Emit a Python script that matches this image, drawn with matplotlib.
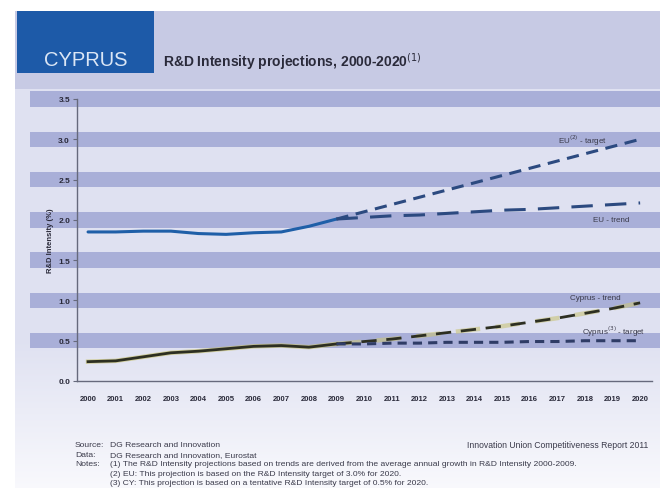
import numpy as np
import matplotlib
matplotlib.use("Agg")
import matplotlib.pyplot as plt
from matplotlib.patches import Rectangle

plt.rcParams['font.family'] = ['Liberation Sans Narrow', 'Liberation Sans', 'DejaVu Sans']

# ---- data -------------------------------------------------------------
years_hist = [2000, 2001, 2002, 2003, 2004, 2005, 2006, 2007, 2008, 2009]
eu_hist = [1.85, 1.85, 1.86, 1.86, 1.83, 1.82, 1.84, 1.85, 1.92, 2.01]
cy_hist = [0.24, 0.25, 0.30, 0.35, 0.37, 0.40, 0.43, 0.44, 0.42, 0.46]

years_proj = [2009, 2010, 2011, 2012, 2013, 2014, 2015, 2016, 2017, 2018, 2019, 2020]
eu_trend = [2.01, 2.03, 2.05, 2.06, 2.08, 2.10, 2.12, 2.13, 2.15, 2.17, 2.19, 2.21]
eu_target = [2.01, 2.10, 2.19, 2.28, 2.37, 2.46, 2.55, 2.64, 2.73, 2.82, 2.91, 3.00]
cy_trend = [0.46, 0.49, 0.52, 0.56, 0.60, 0.64, 0.68, 0.73, 0.78, 0.84, 0.90, 0.97]
cy_target = [0.46, 0.46, 0.47, 0.47, 0.48, 0.48, 0.48, 0.49, 0.49, 0.50, 0.50, 0.50]

x_ticks = list(range(2000, 2021))
y_ticks = [0.0, 0.5, 1.0, 1.5, 2.0, 2.5, 3.0, 3.5]

W, H = 664, 489
fig = plt.figure(figsize=(W / 100, H / 100), dpi=100)
fig.patch.set_facecolor('white')


def fx(px):
    return px / W


def fy(py):
    return 1 - py / H


# ---- page panel, flat in the chart region and fading out below -------
bg = fig.add_axes([fx(15), 0, fx(660) - fx(15), fy(12)])
bg.set_axis_off()
top = np.array([0.878, 0.886, 0.948])
bot = np.array([0.975, 0.975, 0.99])
t = np.clip((np.linspace(0, 1, 256) - 0.70) / 0.30, 0, 1).reshape(-1, 1)
img = top[None, None, :] * (1 - t[:, :, None]) + bot[None, None, :] * t[:, :, None]
bg.imshow(img, aspect='auto', extent=[0, 1, 0, 1], origin='upper')
bg.set_xlim(0, 1)
bg.set_ylim(0, 1)

# header band and country box
fig.patches.append(Rectangle((fx(15), fy(90)), fx(660) - fx(15), fy(12) - fy(90),
                             transform=fig.transFigure, facecolor='#c7cae4',
                             edgecolor='none', zorder=1))
fig.patches.append(Rectangle((fx(17), fy(74)), fx(154) - fx(17), fy(12) - fy(74),
                             transform=fig.transFigure, facecolor='#1d5aa8',
                             edgecolor='none', zorder=2))
fig.text(fx(86), fy(61), 'CYPRUS', color='#dbe6f5', fontsize=14.5, ha='center',
         va='center', zorder=3)
fig.text(fx(163), fy(62), 'R&D Intensity projections, 2000-2020$^{(1)}$',
         color='#2a2a3a', fontsize=10, fontweight='bold', ha='left', va='center',
         zorder=3)

# ---- geometry of the plotting area ------------------------------------
ax_left, ax_right = 77, 652
ax_top, ax_bot = 100, 382
rect_main = [fx(ax_left), fy(ax_bot), fx(ax_right) - fx(ax_left), fy(ax_top) - fy(ax_bot)]
ylim = (0.0, 3.5)

# stripes that run across the full panel width
band_ax = fig.add_axes([fx(30), fy(ax_bot), fx(660) - fx(30), fy(ax_top) - fy(ax_bot)])
band_ax.set_axis_off()
band_ax.set_xlim(0, 1)
band_ax.set_ylim(*ylim)
for v in y_ticks[1:]:
    band_ax.axhspan(v - 0.095, v + 0.095, facecolor='#a9afd8', edgecolor='none',
                    clip_on=False)

ax = fig.add_axes(rect_main)
ax.patch.set_alpha(0)
ax.set_xlim(1999.6, 2020.43)
ax.set_ylim(*ylim)

for s in ['top', 'right']:
    ax.spines[s].set_visible(False)
for s in ['left', 'bottom']:
    ax.spines[s].set_color('#66697c')
    ax.spines[s].set_linewidth(1.0)

ax.set_yticks(y_ticks)
ax.set_yticklabels([f'{v:.1f}' for v in y_ticks])
ax.set_xticks(x_ticks)
ax.set_xticklabels([str(y) for y in x_ticks])
ax.tick_params(axis='y', length=3, width=0.8, color='#66697c', pad=2,
               labelsize=6, labelcolor='#2a2a3a')
ax.tick_params(axis='x', length=0, pad=10, labelsize=5.5, labelcolor='#2a2a3a')
for lbl in ax.get_xticklabels() + ax.get_yticklabels():
    lbl.set_fontweight('bold')
ax.set_ylabel('R&D Intensity (%)', fontsize=5.5, color='#2a2a3a', labelpad=3,
              fontweight='bold')

# ---- series -------------------------------------------------------------
ax.plot(years_hist, eu_hist, color='#1f5fa8', lw=2.2, solid_capstyle='round', zorder=4)
ax.plot(years_proj, eu_target, color='#2c4a80', lw=2.2, dashes=(4, 2.5), zorder=4)
ax.plot(years_proj, eu_trend, color='#2c4a80', lw=2.2, dashes=(7, 4), zorder=4)

ax.plot(years_hist, cy_hist, color='#c9c47a', lw=3.2, alpha=0.7, zorder=3)
ax.plot(years_hist, cy_hist, color='#2d2f22', lw=2.0, zorder=4)
ax.plot(years_proj, cy_trend, color='#c9c47a', lw=3.2, alpha=0.6, dashes=(5.5, 3.5), zorder=3)
ax.plot(years_proj, cy_trend, color='#2d2f22', lw=2.0, dashes=(5.5, 3.5), zorder=4)
ax.plot(years_proj, cy_target, color='#2f3c66', lw=2.2, dashes=(3, 2), zorder=4)

# series labels
lab_kw = dict(fontsize=5.8, color='#3a3a4a', ha='right', va='center', zorder=5)
ax.text(2018.8, 2.99, 'EU$^{(2)}$ - target', **lab_kw)
ax.text(2019.6, 2.01, 'EU - trend', **lab_kw)
ax.text(2019.3, 1.04, 'Cyprus - trend', **lab_kw)
ax.text(2020.2, 0.62, 'Cyprus$^{(3)}$ - target', **lab_kw)

# ---- footnotes ----------------------------------------------------------
fn = dict(fontsize=6.1, color='#3a3a4a', ha='left', va='center')
fig.text(fx(75), fy(446), 'Source:', **fn)
fig.text(fx(110), fy(446), 'DG Research and Innovation', **fn)
fig.text(fx(75), fy(455.5), 'Data:', **fn)
fig.text(fx(110), fy(455.5), 'DG Research and Innovation, Eurostat', **fn)
fig.text(fx(75), fy(465), 'Notes:', **fn)
fig.text(fx(110), fy(465), '(1) The R&D Intensity projections based on trends are derived '
         'from the average annual growth in R&D Intensity 2000-2009.', **fn)
fig.text(fx(110), fy(474.5), '(2) EU: This projection is based on the R&D Intensity '
         'target of 3.0% for 2020.', **fn)
fig.text(fx(110), fy(484), '(3) CY: This projection is based on a tentative R&D Intensity '
         'target of 0.5% for 2020.', **fn)
fig.text(fx(648), fy(446), 'Innovation Union Competitiveness Report 2011',
         fontsize=6.2, color='#3a3a4a', ha='right', va='center')

fig.savefig('out.png', dpi=100, facecolor=fig.get_facecolor())
